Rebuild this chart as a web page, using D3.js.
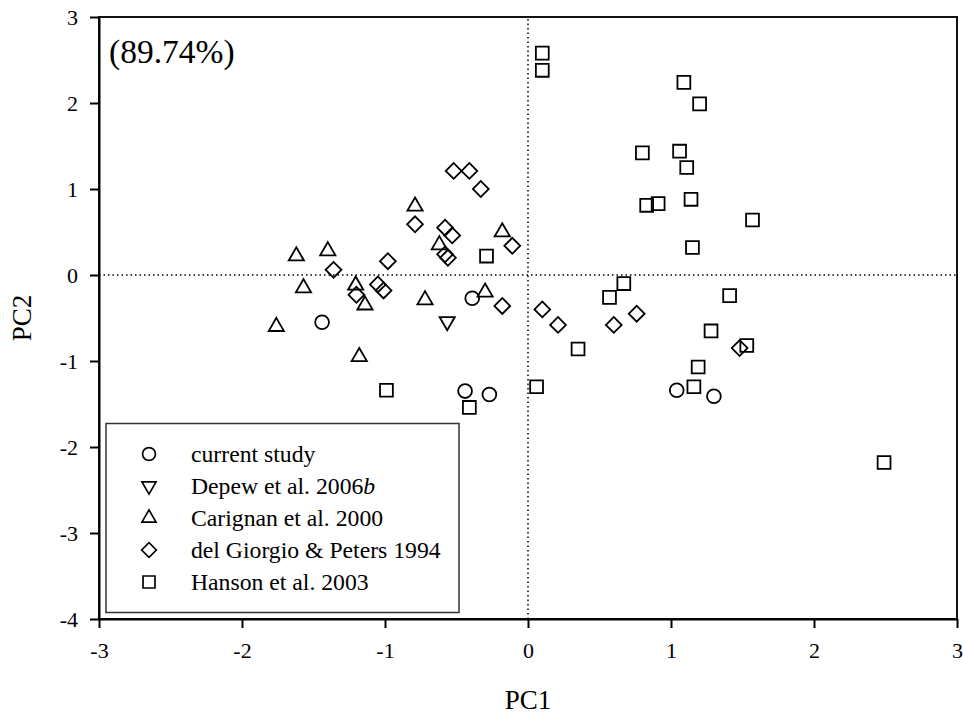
<!DOCTYPE html>
<html>
<head>
<meta charset="utf-8">
<script src="https://cdn.jsdelivr.net/npm/d3@7"></script>
<style>
  html, body { margin: 0; padding: 0; background: #fff; }
  svg { display: block; font-family: "Liberation Serif", "Times New Roman", serif; }
</style>
</head>
<body>
<svg id="chart" width="963" height="719"></svg>
<script>
// PCA scores (PC1, PC2) per source study
const currentStudyPC1 = [-1.44, -0.39, -0.44, -0.27, 1.04, 1.30];
const currentStudyPC2 = [-0.55, -0.27, -1.35, -1.39, -1.34, -1.41];

const depewPC1 = [-0.565];
const depewPC2 = [-0.54];

const carignanPC1 = [-0.79, -0.62, -0.18, -1.62, -1.40, -1.57, -1.205, -1.14, -0.72, -0.30, -1.76, -1.18];
const carignanPC2 = [0.80, 0.35, 0.50, 0.22, 0.28, -0.15, -0.12, -0.35, -0.29, -0.20, -0.60, -0.95];

const delGiorgioPC1 = [-0.52, -0.41, -0.33, -0.79, -0.58, -0.53, -0.58, -0.56, -0.11, -1.36, -0.98, -1.20, -1.05, -1.01, -0.18, 0.10, 0.21, 0.60, 0.76, 1.48];
const delGiorgioPC2 = [1.21, 1.21, 1.00, 0.59, 0.55, 0.46, 0.24, 0.20, 0.34, 0.06, 0.16, -0.23, -0.11, -0.18, -0.36, -0.40, -0.58, -0.58, -0.45, -0.85];

const hansonPC1 = [0.10, 0.10, -0.29, -0.99, -0.41, 0.06, 0.35, 1.09, 1.20, 0.80, 1.06, 1.11, 0.83, 0.91, 1.14, 1.57, 1.15, 0.67, 0.57, 1.41, 1.28, 1.53, 1.19, 1.16, 2.49];
const hansonPC2 = [2.58, 2.38, 0.22, -1.34, -1.54, -1.30, -0.86, 2.24, 1.99, 1.42, 1.44, 1.25, 0.81, 0.83, 0.88, 0.64, 0.32, -0.10, -0.26, -0.24, -0.65, -0.82, -1.07, -1.30, -2.18];

const seriesNames = ["current study", "Depew et al. 2006", "Carignan et al. 2000", "del Giorgio & Peters 1994", "Hanson et al. 2003"];
const seriesMarkers = ["circle", "triangleDown", "triangleUp", "diamond", "square"];

const xTicks = [-3, -2, -1, 0, 1, 2, 3];
const yTicks = [-4, -3, -2, -1, 0, 1, 2, 3];
const varianceLabel = "(89.74%)";

const series = [
  { name: seriesNames[0], marker: seriesMarkers[0], x: currentStudyPC1, y: currentStudyPC2 },
  { name: seriesNames[1], marker: seriesMarkers[1], x: depewPC1, y: depewPC2 },
  { name: seriesNames[2], marker: seriesMarkers[2], x: carignanPC1, y: carignanPC2 },
  { name: seriesNames[3], marker: seriesMarkers[3], x: delGiorgioPC1, y: delGiorgioPC2 },
  { name: seriesNames[4], marker: seriesMarkers[4], x: hansonPC1, y: hansonPC2 }
];

const svg = d3.select("#chart");
const plotLeft = 99, plotRight = 957, plotTop = 17, plotBottom = 619;

const x = d3.scaleLinear().domain([-3, 3]).range([plotLeft, plotRight]);
const y = d3.scaleLinear().domain([-4, 3]).range([plotBottom, plotTop]);

// marker shapes
const symbolFor = {
  circle: d3.symbol().type(d3.symbolCircle).size(150)(),
  square: d3.symbol().type(d3.symbolSquare).size(165)(),
  diamond: d3.symbol().type(d3.symbolSquare).size(125)(),
  triangleUp: d3.symbol().type(d3.symbolTriangle).size(100)(),
  triangleDown: d3.symbol().type(d3.symbolTriangle).size(100)()
};
const rotateFor = { circle: 0, square: 0, diamond: 45, triangleUp: 0, triangleDown: 180 };

// plain hyphen-minus tick labels
const tickText = d => String(d);

// dotted zero reference lines
svg.append("line")
  .attr("x1", x(-3)).attr("x2", x(3)).attr("y1", y(0)).attr("y2", y(0))
  .attr("stroke", "#000").attr("stroke-width", 1.5).attr("stroke-dasharray", "1.5,3");
svg.append("line")
  .attr("x1", x(0)).attr("x2", x(0)).attr("y1", y(-4)).attr("y2", y(3))
  .attr("stroke", "#000").attr("stroke-width", 1.5).attr("stroke-dasharray", "1.5,3");

// points
series.forEach(s => {
  svg.append("g").selectAll("path")
    .data(s.x.map((v, i) => [v, s.y[i]]))
    .join("path")
    .attr("d", symbolFor[s.marker])
    .attr("transform", d => `translate(${x(d[0])},${y(d[1])}) rotate(${rotateFor[s.marker]})`)
    .attr("fill", "none")
    .attr("stroke", "#000")
    .attr("stroke-width", 1.8);
});

// frame
svg.append("rect")
  .attr("x", plotLeft).attr("y", plotTop).attr("width", plotRight - plotLeft).attr("height", plotBottom - plotTop)
  .attr("fill", "none").attr("stroke", "#111").attr("stroke-width", 2);

// axes
const xAxis = svg.append("g").attr("transform", `translate(0,${plotBottom})`)
  .call(d3.axisBottom(x).tickValues(xTicks).tickFormat(tickText).tickSizeInner(9).tickSizeOuter(0).tickPadding(14));
const yAxis = svg.append("g").attr("transform", `translate(${plotLeft},0)`)
  .call(d3.axisLeft(y).tickValues(yTicks).tickFormat(tickText).tickSizeInner(9).tickSizeOuter(0).tickPadding(12));
[xAxis, yAxis].forEach(g => {
  g.select(".domain").attr("stroke", "#000").attr("stroke-width", 2);
  g.selectAll(".tick line").attr("stroke", "#000").attr("stroke-width", 2);
  g.selectAll(".tick text").attr("fill", "#000").style("font-size", "22px")
    .style("font-family", "'Liberation Serif', 'Times New Roman', serif");
});
xAxis.selectAll(".tick text").attr("dy", "0.71em");
yAxis.selectAll(".tick text").attr("dy", "0.34em");

// axis titles
svg.append("text").attr("x", x(0)).attr("y", 709).attr("text-anchor", "middle")
  .style("font-size", "27px").text("PC1");
svg.append("text").attr("transform", `translate(31,${y(-0.5)}) rotate(-90)`).attr("text-anchor", "middle")
  .style("font-size", "27px").text("PC2");

// explained variance label
svg.append("text").attr("x", 109).attr("y", 63).style("font-size", "33.5px").text(varianceLabel);

// legend
const legend = svg.append("g");
legend.append("rect").attr("x", 106).attr("y", 423.5).attr("width", 353).attr("height", 189)
  .attr("fill", "#fff").attr("stroke", "#333").attr("stroke-width", 1.5);
series.forEach((s, i) => {
  const cy = 454 + i * 32;
  legend.append("path")
    .attr("d", symbolFor[s.marker])
    .attr("transform", `translate(149,${cy}) scale(0.93) rotate(${rotateFor[s.marker]})`)
    .attr("fill", "none").attr("stroke", "#000").attr("stroke-width", 1.8);
  const t = legend.append("text").attr("x", 191).attr("y", cy).attr("dy", "0.35em")
    .style("font-size", "23.7px").text(s.name);
  if (i === 1) t.append("tspan").style("font-style", "italic").text("b");
});
</script>
</body>
</html>
